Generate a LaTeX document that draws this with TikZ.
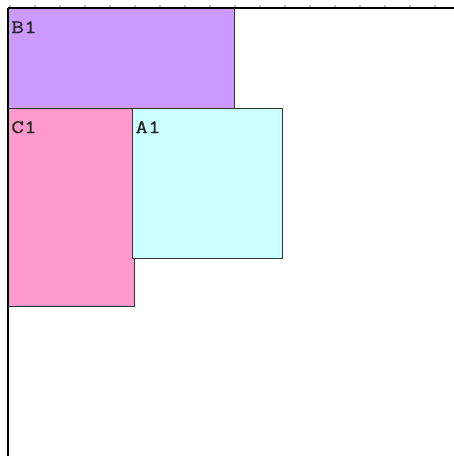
\documentclass[tikz,border=0pt]{standalone}
\usepackage{fontspec}
\newfontfamily\boxfont{Latin Modern Mono}[FakeBold=0.4]
\usepackage{tikz}
\definecolor{lilac}{HTML}{CC99FF}
\definecolor{rose}{HTML}{FF99CC}
\definecolor{aqua}{HTML}{CCFFFF}
\definecolor{edge}{HTML}{333333}
\definecolor{tick}{HTML}{C0C0C0}

\begin{document}
\begin{tikzpicture}[x=1pt, y=-1pt,
    cell/.style={draw=edge, line width=1.2pt, anchor=north west, inner sep=0pt},
    tag/.style={anchor=base west, inner sep=0pt, font=\boxfont\fontsize{19}{19}\selectfont, xscale=1.3, text=black!85}
]
\useasboundingbox[fill=white] (0,0) rectangle (454,456);
\foreach \t in {0,...,17}
    \fill[tick] (10+25*\t-0.8,5) rectangle (10+25*\t+0.8,6.6);
\node[cell, fill=lilac, minimum width=226pt, minimum height=100pt] (B1) at (8,8) {};
\node[cell, fill=rose, minimum width=126pt, minimum height=198pt] (C1) at (8,108) {};
\node[cell, fill=aqua, minimum width=150pt, minimum height=150pt] (A1) at (132,108) {};
\node[tag] (tB1) at ([shift={(3,25)}]B1.north west) {B1};
\node[tag] (tC1) at ([shift={(3,25)}]C1.north west) {C1};
\node[tag] (tA1) at ([shift={(3,25)}]A1.north west) {A1};
\coordinate (top) at (454,8);
\coordinate (bottom) at (8,456);
\draw[line width=1.5pt, black] (B1.north west) -- (top);
\draw[line width=2pt, black] (B1.north west) -- (bottom);
\end{tikzpicture}
\end{document}
